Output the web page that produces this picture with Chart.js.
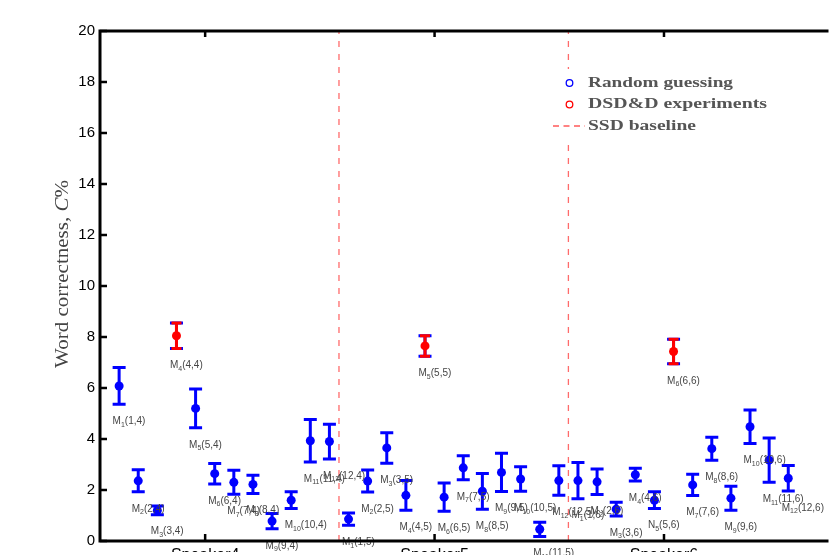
<!DOCTYPE html>
<html>
<head>
<meta charset="utf-8">
<script src="https://cdn.jsdelivr.net/npm/chart.js@4.4.0/dist/chart.umd.min.js"></script>
<style>
    html, body { margin: 0; padding: 0; background: #fff; }
    #wrap { width: 831px; height: 555px; position: relative; }
</style>
</head>
<body>
<div id="wrap"><canvas id="chart"></canvas></div>
<script>
// speakers on the x axis, 12 models each
const speakers = ['Speaker4', 'Speaker5', 'Speaker6'];
const speakerIds = [4, 5, 6];
const dsdModel = [4, 5, 6];   // the red DSD&D point for each speaker

// word correctness C% (mean) and error bar half length
const mean4 = [6.08, 2.36, 1.20, 8.05, 5.20, 2.64, 2.30, 2.22, 0.78, 1.60, 3.93, 3.90];
const err4  = [0.72, 0.43, 0.17, 0.50, 0.76, 0.40, 0.47, 0.36, 0.30, 0.33, 0.83, 0.68];
const mean5 = [0.86, 2.35, 3.65, 1.79, 7.65, 1.72, 2.87, 1.95, 2.69, 2.43, 0.46, 2.37];
const err5  = [0.24, 0.43, 0.60, 0.58, 0.40, 0.55, 0.47, 0.70, 0.75, 0.48, 0.28, 0.58];
const mean6 = [2.37, 2.32, 1.25, 2.60, 1.60, 7.43, 2.20, 3.62, 1.68, 4.48, 3.17, 2.46];
const err6  = [0.71, 0.50, 0.27, 0.25, 0.33, 0.48, 0.42, 0.45, 0.47, 0.66, 0.87, 0.50];

const yTicks = [0, 2, 4, 6, 8, 10, 12, 14, 16, 18, 20];
const speakerTicks = [5.5, 17.5, 29.5];
const baselines = [12.5, 24.5];
// the one label printed with an N instead of an M
const oddLabels = [{ speaker: 6, model: 5, letter: 'N' }];

let means = [mean4, mean5, mean6];
let errs = [err4, err5, err6];

let points = [];
speakers.forEach(function (name, g) {
    means[g].forEach(function (m, i) {
        let model = i + 1;
        let odd = oddLabels.find(o => o.speaker == speakerIds[g] && o.model == model);
        points.push({
            x: g * 12 + model,
            y: m,
            err: errs[g][i],
            dsd: model == dsdModel[g],
            letter: odd ? odd.letter : 'M',
            sub: String(model),
            tail: '(' + model + ',' + speakerIds[g] + ')'
        });
    });
});

let drawBar = function (ctx, px, yTop, yBot, color, half) {
    ctx.strokeStyle = color;
    ctx.lineWidth = 3;
    ctx.beginPath();
    ctx.moveTo(px, yTop); ctx.lineTo(px, yBot);
    ctx.moveTo(px - half, yTop); ctx.lineTo(px + half, yTop);
    ctx.moveTo(px - half, yBot); ctx.lineTo(px + half, yBot);
    ctx.stroke();
}

// draws text squeezed/stretched to a given width
let fitText = function (ctx, parts, x, y, width) {
    let total = 0;
    parts.forEach(p => { ctx.font = p.font; total += ctx.measureText(p.text).width; });
    ctx.save();
    ctx.translate(x, y);
    ctx.scale(width / total, 1);
    let cx = 0;
    parts.forEach(p => {
        ctx.font = p.font;
        ctx.fillText(p.text, cx, 0);
        cx += ctx.measureText(p.text).width;
    });
    ctx.restore();
}

const errorBars = {
    id: 'errorBars',
    beforeDatasetsDraw(chart) {
        let ctx = chart.ctx, xs = chart.scales.x, ys = chart.scales.y;
        ctx.save();
        points.forEach(p => {
            let px = xs.getPixelForValue(p.x);
            let t = ys.getPixelForValue(p.y + p.err);
            let b = ys.getPixelForValue(p.y - p.err);
            drawBar(ctx, px, t, b, '#0000ff', 6.5);
            if (p.dsd) drawBar(ctx, px, t, b, '#ff0000', 5);
        });
        ctx.restore();
    },
    afterDatasetsDraw(chart) {
        let ctx = chart.ctx, xs = chart.scales.x, ys = chart.scales.y;
        ctx.save();
        ctx.fillStyle = '#454545';
        ctx.textBaseline = 'middle';
        points.forEach(p => {
            let lx = xs.getPixelForValue(p.x) - 6.5;
            let ly = ys.getPixelForValue(p.y - p.err) + 17;
            ctx.font = '10px "Liberation Sans"';
            ctx.fillText(p.letter, lx, ly);
            lx += ctx.measureText(p.letter).width;
            ctx.font = '7px "Liberation Sans"';
            ctx.fillText(p.sub, lx, ly + 3.5);
            lx += ctx.measureText(p.sub).width;
            ctx.font = '10px "Liberation Sans"';
            ctx.fillText(p.tail, lx, ly);
        });
        ctx.restore();
    },
    afterDraw(chart) {
        let ctx = chart.ctx, xs = chart.scales.x, ys = chart.scales.y;
        let a = chart.chartArea;
        ctx.save();
        // frame (right side is cut off)
        ctx.strokeStyle = '#000';
        ctx.lineWidth = 3;
        ctx.beginPath();
        ctx.moveTo(a.right + 2, a.top); ctx.lineTo(a.left, a.top);
        ctx.lineTo(a.left, a.bottom); ctx.lineTo(a.right + 2, a.bottom);
        ctx.stroke();
        ctx.lineWidth = 2.5;
        ctx.beginPath();
        yTicks.forEach(v => {
            let py = ys.getPixelForValue(v);
            ctx.moveTo(a.left, py); ctx.lineTo(a.left + 7, py);
        });
        speakerTicks.forEach(v => {
            let px = xs.getPixelForValue(v);
            ctx.moveTo(px, a.bottom); ctx.lineTo(px, a.bottom - 7);
            ctx.moveTo(px, a.top); ctx.lineTo(px, a.top + 6);
        });
        ctx.stroke();

        // y axis title
        ctx.save();
        ctx.translate(68, 274);
        ctx.rotate(-Math.PI / 2);
        ctx.fillStyle = '#444';
        ctx.textBaseline = 'alphabetic';
        fitText(ctx, [
            { text: 'Word correctness, ', font: '18px "Liberation Serif"' },
            { text: 'C', font: 'italic 18px "Liberation Serif"' },
            { text: '%', font: '18px "Liberation Serif"' }
        ], -94, 0, 188);
        ctx.restore();

        // legend
        ctx.fillStyle = '#fff';
        ctx.fillRect(548, 69, 228, 71);
        ctx.lineWidth = 1.3;
        ctx.strokeStyle = '#0000ff';
        ctx.beginPath(); ctx.arc(569.5, 83, 3.3, 0, Math.PI * 2); ctx.stroke();
        ctx.strokeStyle = '#ff0000';
        ctx.beginPath(); ctx.arc(569.5, 104.5, 3.3, 0, Math.PI * 2); ctx.stroke();
        ctx.strokeStyle = '#ff5a5a';
        ctx.setLineDash([6, 4.5]);
        ctx.beginPath(); ctx.moveTo(553, 126); ctx.lineTo(585, 126); ctx.stroke();
        ctx.setLineDash([]);
        ctx.fillStyle = '#555';
        ctx.textBaseline = 'middle';
        let lf = 'bold 15px "Liberation Serif"';
        fitText(ctx, [{ text: 'Random guessing', font: lf }], 588, 83, 145);
        fitText(ctx, [{ text: 'DSD&D experiments', font: lf }], 588, 104.5, 179);
        fitText(ctx, [{ text: 'SSD baseline', font: lf }], 588, 126, 108);
        ctx.restore();
    }
};

let datasets = baselines.map(v => ({
    type: 'line',
    label: 'SSD baseline',
    data: [{ x: v, y: 0 }, { x: v, y: 20 }],
    borderColor: '#ff6b6b',
    borderWidth: 1.3,
    borderDash: [6, 7],
    pointRadius: 0,
    order: 3
}));
datasets.push({
    type: 'scatter',
    label: 'Random guessing',
    data: points.filter(p => !p.dsd),
    backgroundColor: '#0000ff',
    borderWidth: 0,
    pointRadius: 4.5,
    order: 2
});
datasets.push({
    type: 'scatter',
    label: 'DSD&D experiments',
    data: points.filter(p => p.dsd),
    backgroundColor: '#ff0000',
    borderWidth: 0,
    pointRadius: 4.5,
    order: 1
});

new Chart(document.getElementById('chart'), {
    type: 'scatter',
    data: { datasets: datasets },
    plugins: [errorBars],
    options: {
        responsive: true,
        maintainAspectRatio: false,
        animation: false,
        layout: { padding: { top: 31, right: 0, bottom: 0, left: 0 } },
        plugins: { legend: { display: false }, tooltip: { enabled: false } },
        scales: {
            x: {
                type: 'linear', min: 0, max: 38,
                grid: { display: false, drawTicks: false },
                border: { display: false },
                afterBuildTicks: s => { s.ticks = speakerTicks.map(v => ({ value: v })); },
                afterFit: s => { s.height = 11; },
                ticks: {
                    callback: (v, i) => speakers[i],
                    font: { family: 'Liberation Sans', size: 16 },
                    color: '#000', padding: 5, maxRotation: 0, autoSkip: false
                }
            },
            y: {
                min: 0, max: 20,
                grid: { display: false, drawTicks: false },
                border: { display: false },
                afterBuildTicks: s => { s.ticks = yTicks.map(v => ({ value: v })); },
                afterFit: s => { s.width = 100; },
                ticks: {
                    font: { family: 'Liberation Sans', size: 15 },
                    color: '#000', padding: 5
                }
            }
        }
    }
});
</script>
</body>
</html>
